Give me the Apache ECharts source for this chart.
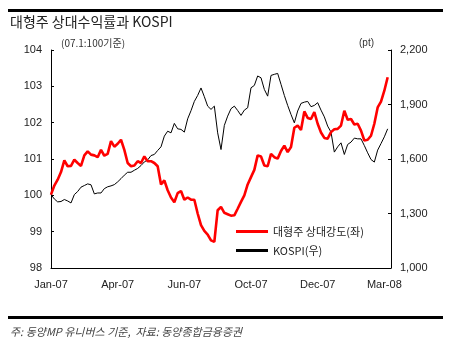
<!DOCTYPE html>
<html>
<head>
<meta charset="utf-8">
<script src="https://cdn.jsdelivr.net/npm/echarts@6/dist/echarts.min.js"></script>
<style>
html,body{margin:0;padding:0;background:#fff;}
#c{width:450px;height:345px;}
</style>
</head>
<body>
<div id="c"></div>
<script>
// x tick labels (every 20 sample points)
const xTickLabels = ['Jan-07', 'Apr-07', 'Jun-07', 'Oct-07', 'Dec-07', 'Mar-08'];
const seriesNames = ['대형주 상대강도(좌)', 'KOSPI(우)'];
// relative strength of large caps (left axis, 07.1 = 100)
const relStrength = [
  100.02,100.27,100.43,100.64,100.96,100.80,100.81,100.98,100.89,100.81,
  101.10,101.21,101.12,101.10,101.05,101.25,101.09,101.14,101.49,101.34,
  101.42,101.53,101.25,100.89,100.80,100.82,100.94,100.89,101.07,100.94,
  100.94,100.89,100.80,100.30,100.41,100.14,99.94,99.81,100.06,100.12,
  99.88,99.94,99.88,99.88,99.50,99.18,99.02,98.92,98.76,98.72,
  99.59,99.68,99.52,99.48,99.44,99.45,99.63,99.82,100.00,100.30,
  100.50,100.70,101.10,101.07,100.82,100.80,101.14,101.05,101.01,101.22,
  101.37,101.19,101.33,101.86,101.92,101.80,102.31,102.13,102.10,102.29,
  101.97,101.73,101.58,101.56,101.74,101.82,101.83,101.92,102.33,102.08,
  102.10,101.95,101.97,101.78,101.51,101.53,101.64,101.97,102.42,102.58,
  102.88,103.25
];
// KOSPI index (right axis, pt)
const kospi = [
  1404,1380,1364,1366,1377,1369,1358,1404,1421,1445,
  1454,1463,1458,1408,1413,1413,1437,1447,1452,1459,
  1474,1492,1511,1527,1527,1538,1548,1564,1584,1595,
  1619,1625,1647,1667,1726,1753,1744,1796,1766,1763,
  1748,1821,1866,1917,1950,1991,1943,1891,1873,1891,
  1744,1652,1785,1836,1877,1891,1867,1840,1869,1882,
  1992,2005,2057,2047,1983,1946,2060,2066,2071,2011,
  1950,1895,1845,1799,1864,1906,1913,1917,1888,1895,
  1910,1869,1832,1781,1748,1638,1667,1689,1625,1680,
  1693,1715,1711,1711,1674,1634,1597,1583,1649,1685,
  1722,1766
];

const chart = echarts.init(document.getElementById('c'), null, {renderer: 'canvas'});
const numFont = 'Liberation Sans, Arial, sans-serif';
const krFont = '"Noto Sans CJK KR", sans-serif';

chart.setOption({
  animation: false,
  backgroundColor: '#fff',
  grid: {left: 51, right: 59, top: 50, bottom: 77},
  legend: {
    orient: 'vertical',
    left: 231, top: 221,
    itemWidth: 32, itemHeight: 3, itemGap: 8,
    icon: 'rect',
    textStyle: {fontFamily: krFont, fontSize: 11, color: '#222'},
    data: seriesNames
  },
  xAxis: {
    type: 'value', min: 0, max: 102, interval: 20,
    axisLine: {show: true, lineStyle: {color: '#000', width: 1}},
    axisTick: {show: false},
    splitLine: {show: false},
    axisLabel: {
      margin: 11, fontFamily: numFont, fontSize: 11, color: '#222',
      formatter: v => (v % 20 === 0 && xTickLabels[v / 20]) ? xTickLabels[v / 20] : ''
    }
  },
  yAxis: [
    {
      type: 'value', min: 98, max: 104, interval: 1, position: 'left',
      axisLine: {show: true, lineStyle: {color: '#000', width: 1}},
      axisTick: {show: true, inside: true, length: 3, lineStyle: {color: '#000'}},
      splitLine: {show: false},
      axisLabel: {margin: 9, fontFamily: numFont, fontSize: 11, color: '#222'}
    },
    {
      type: 'value', min: 1000, max: 2200, interval: 300, position: 'right',
      axisLine: {show: true, lineStyle: {color: '#000', width: 1}},
      axisTick: {show: true, inside: true, length: 3, lineStyle: {color: '#000'}},
      splitLine: {show: false},
      axisLabel: {margin: 9, fontFamily: numFont, fontSize: 11, color: '#222',
        formatter: v => v.toLocaleString('en-US')}
    }
  ],
  series: [
    {
      name: seriesNames[0], type: 'line', yAxisIndex: 0, symbol: 'none',
      lineStyle: {color: '#ff0000', width: 2.6}, itemStyle: {color: '#ff0000'},
      z: 3,
      data: relStrength.map((v, i) => [i, v])
    },
    {
      name: seriesNames[1], type: 'line', yAxisIndex: 1, symbol: 'none',
      lineStyle: {color: '#000', width: 1}, itemStyle: {color: '#000'},
      z: 2,
      data: kospi.map((v, i) => [i, v])
    }
  ],
  graphic: [
    {type: 'rect', shape: {x: 8, y: 9, width: 435, height: 3}, style: {fill: '#000'}},
    {type: 'text', left: 10, top: 15, style: {text: '대형주 상대수익률과 KOSPI', fontFamily: krFont, fontSize: 14, fill: '#222'}},
    {type: 'text', left: 61, top: 38, style: {text: '(07.1:100기준)', fontFamily: krFont, fontSize: 10, fill: '#333'}},
    {type: 'text', left: 359, top: 38, style: {text: '(pt)', fontFamily: numFont, fontSize: 10, fill: '#333'}},
    {type: 'rect', shape: {x: 8, y: 316, width: 435, height: 3}, style: {fill: '#000'}},
    {type: 'text', left: 10, top: 326, style: {text: '주: 동양MP 유니버스 기준,  자료: 동양종합금융증권', fontFamily: krFont, fontSize: 11, fontStyle: 'italic', fill: '#444'}}
  ]
});
</script>
</body>
</html>
